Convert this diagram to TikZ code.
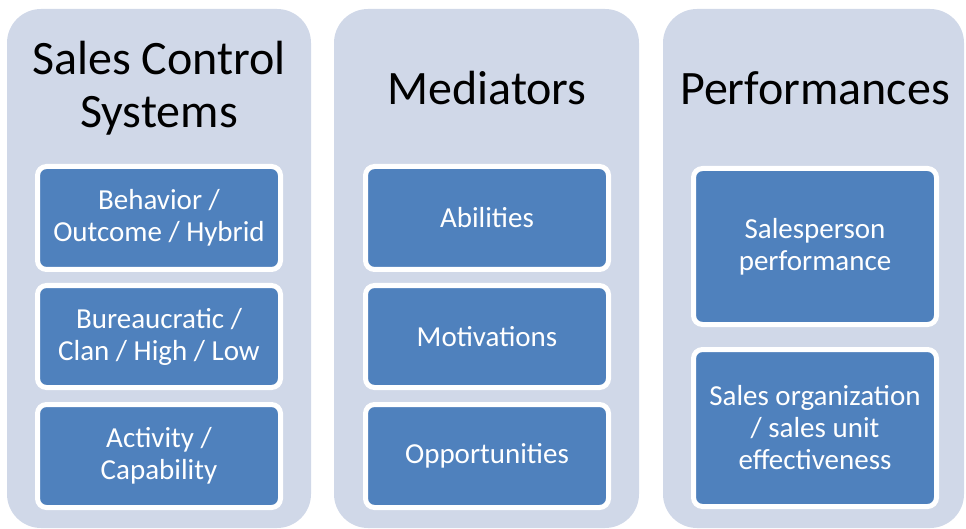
\documentclass[tikz,border=0pt]{standalone}
\usepackage{fontspec}
\setmainfont{Carlito}
\definecolor{colbg}{HTML}{D0D8E8}
\definecolor{boxblue}{HTML}{4F81BD}
\tikzset{
  column/.style={fill=colbg, draw=none, rounded corners=34pt},
  title/.style={align=center, text=black, font=\fontsize{48}{53}\selectfont, inner sep=0pt},
  item/.style={draw=white, line width=5pt, fill=boxblue, rounded corners=9pt,
    text=white, align=center, font=\fontsize{29}{32}\selectfont,
    minimum width=243pt, inner sep=0pt},
}
\begin{document}
\begin{tikzpicture}[x=1pt,y=-1pt]
\useasboundingbox (0,0) rectangle (966,529);
% columns
\path[column] (7,9) rectangle (311,528);
\path[column] (334,9) rectangle (639,528);
\path[column] (663,9) rectangle (964,528);
% titles
\node[title] (t1) at (159,88) {Sales Control\\Systems};
\node[title] (t2) at (487,88) {Mediators};
\node[title] (t3) at (815,88) {Performances};
% column 1
\node[item, minimum height=103pt] (a1) at (159,218) {Behavior /\\Outcome / Hybrid};
\node[item, minimum height=102pt] (a2) at (159,336.5) {Bureaucratic /\\Clan / High / Low};
\node[item, minimum height=103pt] (a3) at (159,456) {Activity /\\Capability};
% column 2
\node[item, minimum height=103pt] (b1) at (487,218) {Abilities};
\node[item, minimum height=102pt] (b2) at (487,336.5) {Motivations};
\node[item, minimum height=103pt] (b3) at (487,456) {Opportunities};
% column 3
\node[item, minimum height=156pt] (c1) at (815,246.5) {Salesperson\\performance};
\node[item, minimum height=157pt] (c2) at (815,428) {Sales organization\\/ sales unit\\effectiveness};
\end{tikzpicture}
\end{document}
